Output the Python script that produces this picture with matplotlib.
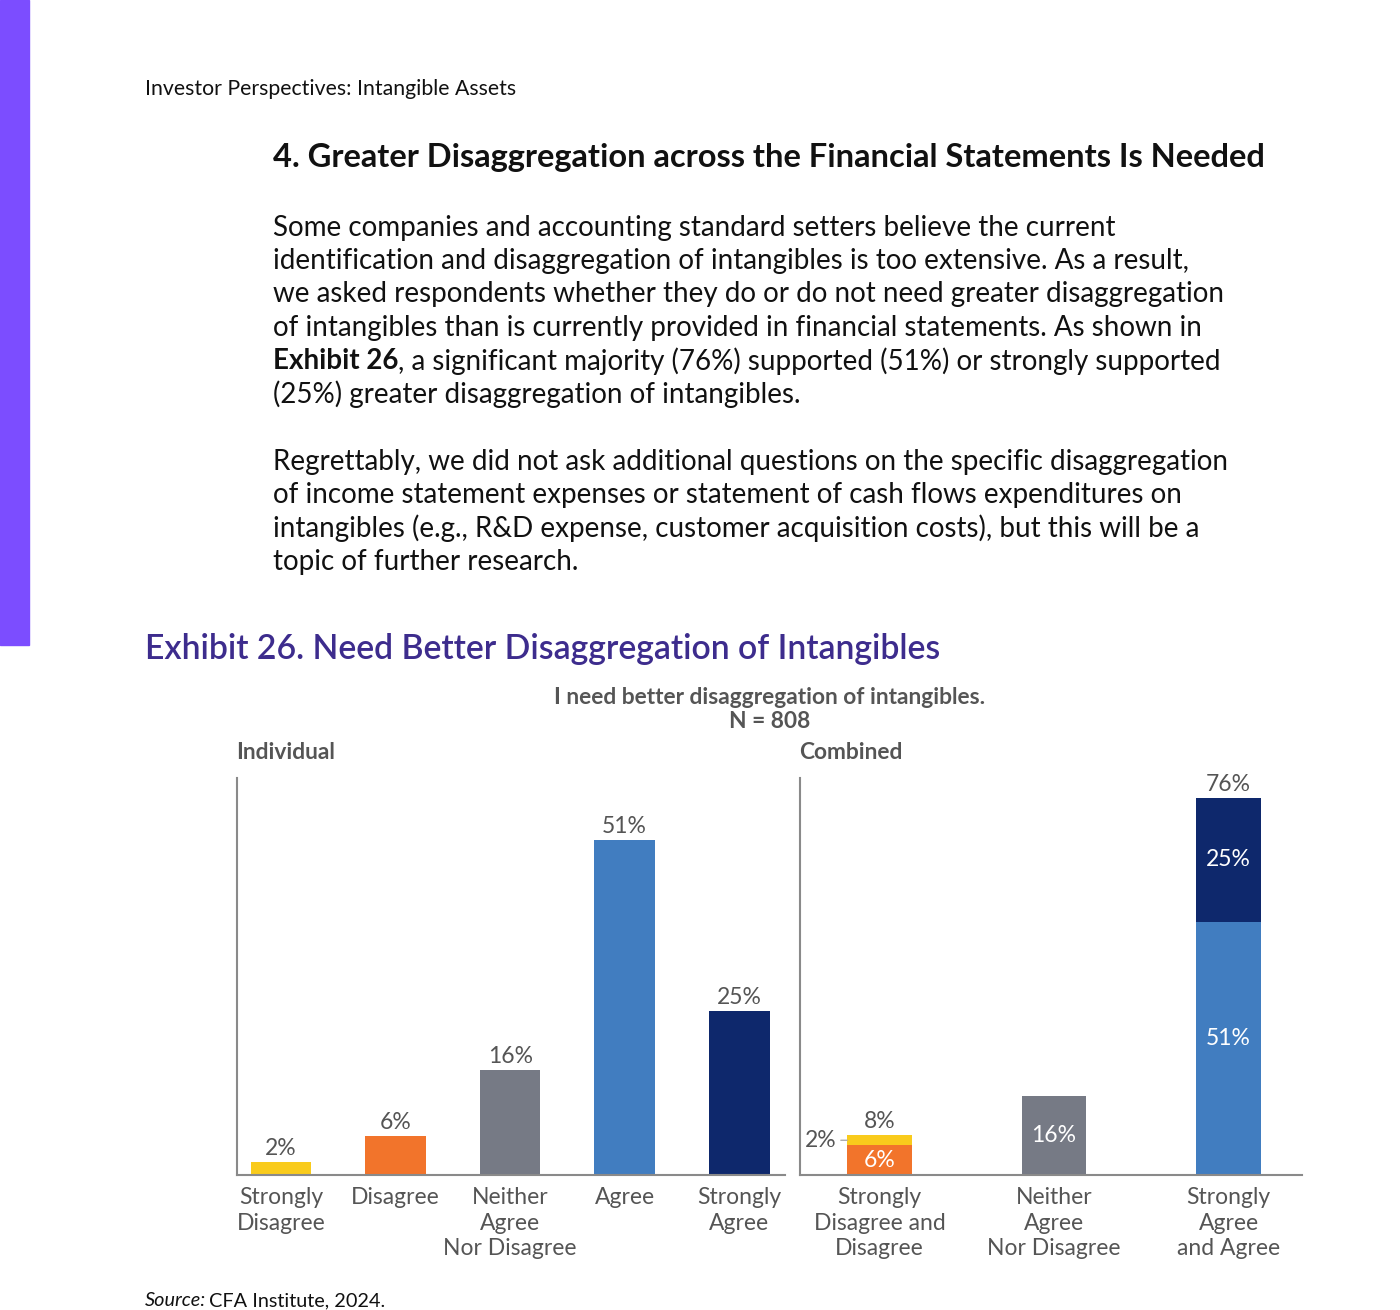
import numpy as np
import matplotlib.pyplot as plt
from matplotlib.patches import Rectangle

plt.rcParams['font.family'] = ['Lato', 'DejaVu Sans']

# Individual responses (%)
ind_labels = ["Strongly\nDisagree", "Disagree", "Neither\nAgree\nNor Disagree", "Agree", "Strongly\nAgree"]
ind_values = [2, 6, 16, 51, 25]

# Combined responses (%) - stacked
comb_labels = ["Strongly\nDisagree and\nDisagree", "Neither\nAgree\nNor Disagree", "Strongly\nAgree\nand Agree"]
comb_bottom = [6, 16, 51]
comb_top = [2, 0, 25]
comb_total = [8, 16, 76]

yellow = "#F9CB1C"
orange = "#F2742B"
gray = "#767A85"
blue = "#417DC0"
navy = "#0E286C"
ind_colors = [yellow, orange, gray, blue, navy]
txt_gray = "#555555"
purple = "#7C4DFF"
title_purple = "#3D2C8D"

W, H = 1400, 1310
fig = plt.figure(figsize=(W / 100, H / 100), dpi=100)


def px(x, y):
    return x / W, 1 - y / H


def ftext(x, y, s, **kw):
    kw.setdefault('va', 'center')
    return fig.text(*px(x, y), s, **kw)


# purple page band
fig.patches.append(Rectangle((0, 1 - 645 / H), 29 / W, 645 / H, transform=fig.transFigure,
                             color=purple, zorder=0))

ftext(145, 89, "Investor Perspectives: Intangible Assets", fontsize=15.3, color="#111111")
ftext(273, 158, "4. Greater Disaggregation across the Financial Statements Is Needed",
      fontsize=23.5, fontweight='bold', color="#111111")

body1 = ["Some companies and accounting standard setters believe the current",
         "identification and disaggregation of intangibles is too extensive. As a result,",
         "we asked respondents whether they do or do not need greater disaggregation",
         "of intangibles than is currently provided in financial statements. As shown in",
         None,
         "(25%) greater disaggregation of intangibles."]
body2 = ["Regrettably, we did not ask additional questions on the specific disaggregation",
         "of income statement expenses or statement of cash flows expenditures on",
         "intangibles (e.g., R&D expense, customer acquisition costs), but this will be a",
         "topic of further research."]
bsize = 20
renderer = fig.canvas.get_renderer()
for i, line in enumerate(body1):
    y = 228 + i * 33.2
    if line is None:
        t = ftext(273, y, "Exhibit 26", fontsize=bsize, fontweight='bold', color="#111111")
        bb = t.get_window_extent(renderer)
        fig.text(bb.x1 / W, 1 - y / H,
                 ", a significant majority (76%) supported (51%) or strongly supported",
                 fontsize=bsize, color="#111111", va='center')
    else:
        ftext(273, y, line, fontsize=bsize, color="#111111")
for i, line in enumerate(body2):
    ftext(273, 462 + i * 33.2, line, fontsize=bsize, color="#111111")

ftext(145, 649, "Exhibit 26. Need Better Disaggregation of Intangibles",
      fontsize=24.3, fontweight='semibold', color=title_purple)
ftext(770, 697, "I need better disaggregation of intangibles.", fontsize=16.4,
      fontweight='bold', color=txt_gray, ha='center')
ftext(770, 722, "N = 808", fontsize=16.4, fontweight='bold', color=txt_gray, ha='center')
ftext(236, 753, "Individual", fontsize=16.4, fontweight='bold', color=txt_gray)
ftext(799, 753, "Combined", fontsize=16.4, fontweight='bold', color=txt_gray)

t = ftext(145, 1301, "Source:", fontsize=14.3, style='italic', color="#111111")
bb = t.get_window_extent(renderer)
fig.text((bb.x1 + 3) / W, 1 - 1301 / H, "CFA Institute, 2024.", fontsize=14.3, color="#111111", va='center')

# axes
ax1 = fig.add_axes([237 / W, 1 - 1175 / H, (785 - 237) / W, (1175 - 778) / H])
ax2 = fig.add_axes([800 / W, 1 - 1175 / H, (1302 - 800) / W, (1175 - 778) / H])

lsize = 16.5
for ax in (ax1, ax2):
    for s in ('top', 'right'):
        ax.spines[s].set_visible(False)
    for s in ('left', 'bottom'):
        ax.spines[s].set_color("#8a8a8a")
        ax.spines[s].set_linewidth(1.5)
    ax.set_yticks([])
    ax.tick_params(axis='x', length=0, pad=9, labelsize=lsize, labelcolor=txt_gray)
    ax.set_facecolor('none')


def top_label(ax, x, v, s, off=13):
    ax.annotate(s, xy=(x, v), xytext=(0, off * 0.72), textcoords='offset points',
                ha='center', va='center', fontsize=lsize, color=txt_gray)


x1 = np.arange(len(ind_values))
ax1.bar(x1, ind_values, width=0.53, color=ind_colors)
for x, v in zip(x1, ind_values):
    top_label(ax1, x, v, f"{v}%")
ax1.set_xticks(x1)
ax1.set_xticklabels(ind_labels, linespacing=1.25)
ax1.set_xlim(-0.385, 4.40)
ax1.set_ylim(0, 60.4)

x2 = np.arange(len(comb_bottom))
w2 = 0.37
ax2.bar(x2, comb_bottom, width=w2, color=[orange, gray, blue])
ax2.bar(x2, comb_top, bottom=comb_bottom, width=w2, color=[yellow, gray, navy])
ax2.set_xticks(x2)
ax2.set_xticklabels(comb_labels, linespacing=1.25)
ax2.set_xlim(-0.455, 2.42)
ax2.set_ylim(0, 80)

# labels inside / above combined bars
top_label(ax2, 0, comb_total[0], f"{comb_total[0]}%", off=14)
top_label(ax2, 2, comb_total[2], f"{comb_total[2]}%")
ax2.text(0, comb_bottom[0] / 2, f"{comb_bottom[0]}%", ha='center', va='center', fontsize=lsize, color='white')
ax2.annotate(f"{comb_top[0]}%", xy=(-w2 / 2, comb_bottom[0] + comb_top[0] / 2),
             xytext=(-w2 / 2 - 0.06, comb_bottom[0] + comb_top[0] / 2),
             ha='right', va='center', fontsize=lsize, color=txt_gray,
             arrowprops=dict(arrowstyle='-', color='#aaaaaa', lw=1, shrinkA=1, shrinkB=0))
ax2.text(1, comb_bottom[1] / 2, f"{comb_bottom[1]}%", ha='center', va='center', fontsize=lsize, color='white')
ax2.text(2, comb_bottom[2] / 2 + 2, f"{comb_bottom[2]}%", ha='center', va='center', fontsize=lsize, color='white')
ax2.text(2, comb_bottom[2] + comb_top[2] / 2, f"{comb_top[2]}%", ha='center', va='center', fontsize=lsize, color='white')

fig.savefig("out.png", dpi=100)
